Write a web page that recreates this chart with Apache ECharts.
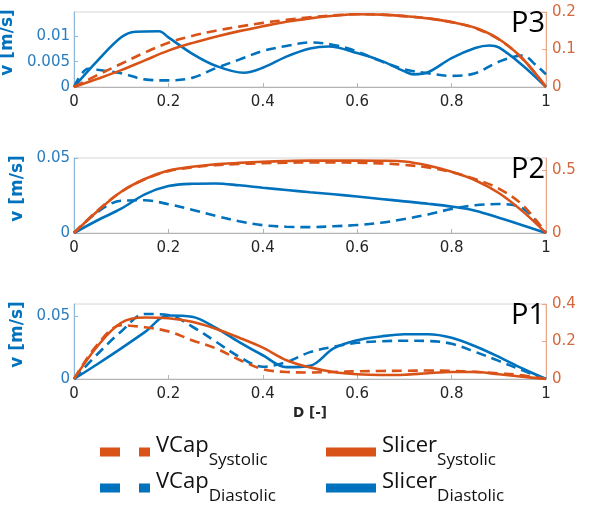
<!DOCTYPE html>
<html><head><meta charset="utf-8">
<script src="https://cdn.jsdelivr.net/npm/echarts@6/dist/echarts.min.js"></script>
<style>html,body{margin:0;padding:0;background:#fff}#c{width:590px;height:506px}</style>
</head><body><div id="c"></div>
<script>
// ---------- data ----------
const dGrid = [0,0.05,0.1,0.15,0.2,0.25,0.3,0.35,0.4,0.45,0.5,0.55,0.6,0.65,0.7,0.75,0.8,0.85,0.9,0.95,1];
const panelLabels = ['P3','P2','P1'];
const xTickInterval = 0.2;

// P3 (top)
const p3SlicerDiaD = [0,0.05,0.1,0.13,0.18,0.2,0.25,0.3,0.36,0.4,0.45,0.5,0.54,0.6,0.65,0.7,0.72,0.75,0.8,0.85,0.88,0.9,0.95,1];
const p3SlicerDia  = [0,0.0052,0.0098,0.0109,0.011,0.0098,0.0066,0.0042,0.0028,0.0038,0.006,0.0076,0.008,0.0067,0.0052,0.0031,0.0025,0.0029,0.0057,0.0077,0.0082,0.0078,0.0043,0];
const p3VCapDiaD = [0,0.03,0.05,0.1,0.15,0.2,0.25,0.3,0.35,0.4,0.45,0.5,0.55,0.6,0.65,0.7,0.75,0.8,0.85,0.9,0.95,0.98,1];
const p3VCapDia  = [0,0.0036,0.0034,0.0027,0.0015,0.0013,0.0018,0.0037,0.0054,0.0071,0.0081,0.0088,0.0083,0.007,0.0051,0.0035,0.0027,0.0022,0.0027,0.005,0.0062,0.0042,0.0025];
const p3SlicerSys = [0,0.022,0.045,0.071,0.097,0.117,0.134,0.149,0.162,0.174,0.183,0.19,0.194,0.193,0.189,0.183,0.173,0.158,0.128,0.076,0];
const p3VCapSys   = [0,0.032,0.062,0.092,0.118,0.136,0.15,0.161,0.171,0.179,0.186,0.191,0.194,0.193,0.189,0.183,0.173,0.157,0.127,0.076,0];

// P2 (middle)
const p2SlicerDia = [0,0.0085,0.0162,0.0258,0.0313,0.0328,0.033,0.0318,0.0302,0.0287,0.0272,0.0258,0.0243,0.0227,0.0211,0.0195,0.0176,0.0149,0.0102,0.0052,0];
const p2VCapDia   = [0,0.014,0.0215,0.0218,0.0192,0.0155,0.0115,0.0078,0.0052,0.0042,0.0039,0.0045,0.0053,0.0068,0.0093,0.0124,0.016,0.0185,0.0193,0.0165,0];
const p2SlicerSys = [0,0.176,0.33,0.432,0.5,0.53,0.55,0.561,0.57,0.576,0.579,0.579,0.579,0.578,0.572,0.54,0.49,0.422,0.32,0.175,0];
const p2VCapSys   = [0,0.18,0.33,0.43,0.495,0.525,0.543,0.552,0.558,0.562,0.565,0.565,0.562,0.557,0.545,0.525,0.487,0.432,0.355,0.225,0];

// P1 (bottom)
const p1SlicerDia = [0,0.012,0.0245,0.0375,0.0508,0.0498,0.041,0.0295,0.019,0.0095,0.0105,0.0245,0.031,0.034,0.0358,0.0358,0.033,0.0262,0.0177,0.0084,0];
const p1VCapDia   = [0,0.02,0.038,0.052,0.0512,0.042,0.03,0.0178,0.0098,0.0135,0.0215,0.0258,0.029,0.0302,0.0306,0.0304,0.0282,0.0217,0.0145,0.0069,0];
const p1SlicerSys = [0,0.176,0.3,0.328,0.324,0.305,0.268,0.22,0.167,0.1,0.062,0.037,0.025,0.021,0.023,0.031,0.037,0.037,0.025,0.012,0];
const p1VCapSys   = [0,0.185,0.287,0.276,0.254,0.207,0.164,0.103,0.052,0.0375,0.035,0.0375,0.041,0.043,0.044,0.045,0.043,0.038,0.03,0.02,0];

// ---------- layout / style ----------
const FONT = 'Open Sans';
const TICKFONT = 'DejaVu Sans';
const BLUE = '#0072BD', ORANGE = '#D95319';
const gridTops = [12, 158, 304];
const gridH = 75;
const leftMax = [0.0148, 0.05, 0.06];
const leftInt = [0.005, 0.05, 0.05];
const rightMax = [0.2, 0.6, 0.4];
const rightInt = [0.1, 0.5, 0.2];

function pairs(xs, ys){ return xs.map((x,i)=>[x, ys[i]]); }

const panels = [
  {dia:[p3SlicerDiaD,p3SlicerDia], vdia:[p3VCapDiaD,p3VCapDia], sys:[dGrid,p3SlicerSys], vsys:[dGrid,p3VCapSys]},
  {dia:[dGrid,p2SlicerDia], vdia:[dGrid,p2VCapDia], sys:[dGrid,p2SlicerSys], vsys:[dGrid,p2VCapSys]},
  {dia:[dGrid,p1SlicerDia], vdia:[dGrid,p1VCapDia], sys:[dGrid,p1SlicerSys], vsys:[dGrid,p1VCapSys]}
];

const grids = [], xAxes = [], yAxes = [], series = [], graphics = [];
const tickFont = {fontFamily: TICKFONT, fontSize: 15};
panels.forEach((p, g) => {
  grids.push({left: 74, right: 44, top: gridTops[g], height: gridH, show: true, borderColor: '#d6d6d6', borderWidth: 1,
    containLabel: false, outerBoundsMode: 'none'});
  const isBottom = g === 2;
  xAxes.push({
    type: 'value', gridIndex: g, min: 0, max: 1, interval: xTickInterval, position: 'bottom',
    axisLine: {show: true, lineStyle: {color: '#b4b4b4', width: 1}},
    axisTick: {show: true, inside: true, length: 4, lineStyle: {color: '#b4b4b4'}},
    splitLine: {show: false},
    axisLabel: Object.assign({color: '#262626', margin: 8, formatter: v => String(+v.toFixed(1))}, tickFont),
    name: isBottom ? 'D [-]' : '', nameLocation: 'middle', nameGap: 27,
    nameTextStyle: {fontFamily: TICKFONT, fontSize: 13.5, fontWeight: 'bold', color: '#262626'}
  });
  yAxes.push({
    type: 'value', gridIndex: g, position: 'left', min: 0, max: leftMax[g], interval: leftInt[g],
    axisLine: {show: true, lineStyle: {color: '#8db8db', width: 1}},
    axisTick: {show: true, inside: true, length: 4, lineStyle: {color: '#8db8db'}},
    splitLine: {show: false},
    axisLabel: Object.assign({color: '#2a7dbf', margin: 4, showMaxLabel: g === 1}, tickFont),
    name: 'v [m/s]', nameLocation: 'middle', nameGap: 45,
    nameTextStyle: {fontFamily: TICKFONT, fontSize: 17, fontWeight: 'bold', color: BLUE, padding: [0, 0, 0, 14]}
  });
  yAxes.push({
    type: 'value', gridIndex: g, position: 'right', min: 0, max: rightMax[g], interval: rightInt[g],
    axisLine: {show: true, lineStyle: {color: '#e8a888', width: 1}},
    axisTick: {show: true, inside: true, length: 4, lineStyle: {color: '#e8a888'}},
    splitLine: {show: false},
    axisLabel: Object.assign({color: '#d4683c', margin: 6, showMaxLabel: g !== 1}, tickFont)
  });
  const common = {type: 'line', xAxisIndex: g, symbol: 'none', smooth: 0.35, silent: true, animation: false};
  series.push(Object.assign({}, common, {name: 'Slicer Diastolic', yAxisIndex: 2*g, data: pairs(p.dia[0], p.dia[1]),
    itemStyle: {color: BLUE}, lineStyle: {color: BLUE, width: 2.6, type: 'solid'}}));
  series.push(Object.assign({}, common, {name: 'VCap Diastolic', yAxisIndex: 2*g, data: pairs(p.vdia[0], p.vdia[1]),
    itemStyle: {color: BLUE}, lineStyle: {color: BLUE, width: 2.6, type: [10, 6]}}));
  series.push(Object.assign({}, common, {name: 'Slicer Systolic', yAxisIndex: 2*g+1, data: pairs(p.sys[0], p.sys[1]),
    itemStyle: {color: ORANGE}, lineStyle: {color: ORANGE, width: 2.6, type: 'solid'}}));
  series.push(Object.assign({}, common, {name: 'VCap Systolic', yAxisIndex: 2*g+1, data: pairs(p.vsys[0], p.vsys[1]),
    itemStyle: {color: ORANGE}, lineStyle: {color: ORANGE, width: 2.6, type: [10, 6]}}));
  graphics.push({type: 'text', right: 45, top: gridTops[g] - 3, z: 10,
    style: {text: panelLabels[g], fontFamily: FONT, fontSize: 29, fill: '#000'}});
});

const dashIcon = 'path://M0,0H20V9H0Z M39,0H50V9H39Z';
const solidIcon = 'rect';
const legendText = {
  fontFamily: FONT, color: '#111',
  rich: {
    m: {fontFamily: FONT, fontSize: 22, lineHeight: 30, verticalAlign: 'top', color: '#111'},
    s: {fontFamily: FONT, fontSize: 17, lineHeight: 1, verticalAlign: 'bottom', color: '#111'},
    z: {fontSize: 1, lineHeight: 34, width: 1}
  }
};
const legendFmt = name => { const parts = name.split(' '); return '{z| }{m|' + parts[0] + '}{s|' + parts[1] + '}'; };
const legendBase = {orient: 'vertical', top: 435, padding: 0, itemWidth: 50, itemHeight: 9, itemGap: 2,
  selectedMode: false, textStyle: legendText, formatter: legendFmt, itemStyle: {borderWidth: 0}};

const chart = echarts.init(document.getElementById('c'), null, {renderer: 'canvas'});
chart.setOption({
  animation: false,
  backgroundColor: '#fff',
  grid: grids,
  xAxis: xAxes,
  yAxis: yAxes,
  series: series,
  graphic: graphics,
  legend: [
    Object.assign({}, legendBase, {left: 100, data: [{name: 'VCap Systolic', icon: dashIcon}, {name: 'VCap Diastolic', icon: dashIcon}]}),
    Object.assign({}, legendBase, {left: 326, data: [{name: 'Slicer Systolic', icon: solidIcon}, {name: 'Slicer Diastolic', icon: solidIcon}]})
  ]
});
</script></body></html>
